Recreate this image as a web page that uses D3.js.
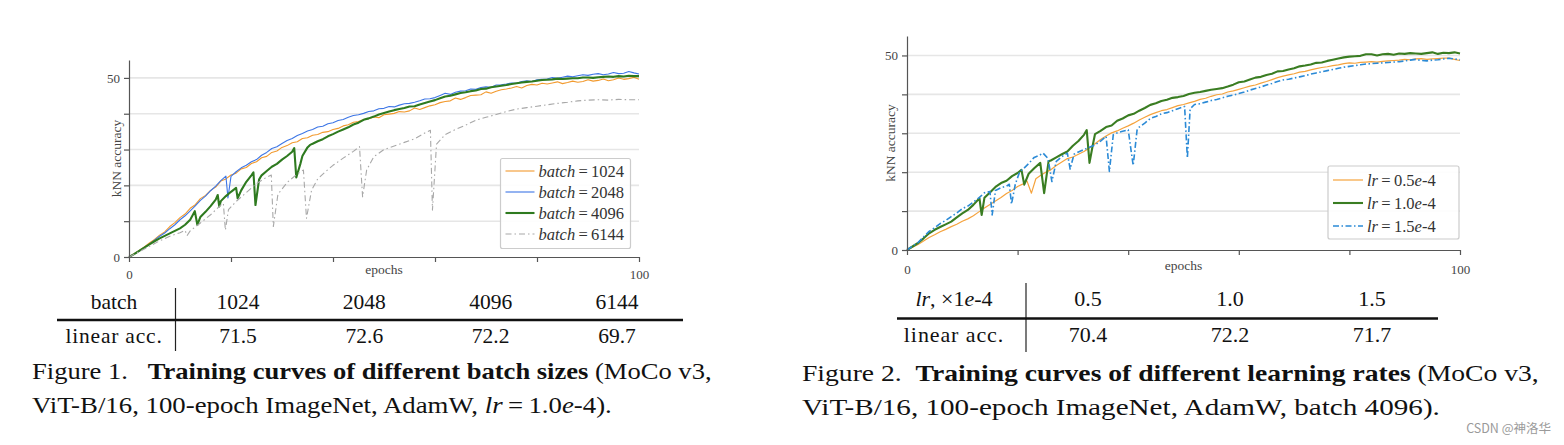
<!DOCTYPE html>
<html><head><meta charset="utf-8">
<script src="https://cdn.jsdelivr.net/npm/d3@7"></script>
<style>html,body{margin:0;padding:0;background:#fff;} svg{display:block;}</style>
</head><body>
<svg id="chart" width="1564" height="445"></svg>
<script>
// ---------------- DATA ----------------
const yTickValues = [0, 10, 20, 30, 40, 50];
const yTickLabels = ["0", "", "", "", "", "50"];
const yGridValues = [10, 20, 30, 40, 50];
const xTickValues = [0, 20, 40, 60, 80, 100];
const xTickLabels = ["0", "", "", "", "", "100"];

const batchLabels = ["1024", "2048", "4096", "6144"];
const batchLinearAcc = ["71.5", "72.6", "72.2", "69.7"];
const lrLabels = ["0.5", "1.0", "1.5"];
const lrLinearAcc = ["70.4", "72.2", "71.7"];

// Figure 1: kNN accuracy vs epoch, [epoch, acc]
const batch1024 = [[0,0],[1,0.9],[2,1.8],[3,2.8],[4,3.9],[5,4.9],[6,6.1],[7,7.0],[8,8.5],[9,9.6],[10,11.0],[11,12.0],[12,13.6],[13,14.6],[14,16.3],[15,17.2],[16,18.6],[17,19.5],[18,21.2],[19,21.8],[20,22.9],[21,23.4],[22,24.6],[23,25.0],[24,26.1],[25,26.6],[26,27.7],[27,28.1],[28,29.2],[29,29.6],[30,30.6],[31,31.1],[32,31.9],[33,32.2],[34,33.1],[35,33.3],[36,34.0],[37,34.2],[38,34.8],[39,35.0],[40,35.6],[41,35.9],[42,36.6],[43,36.9],[44,37.6],[45,37.8],[46,38.4],[47,38.6],[48,39.1],[49,38.9],[50,39.7],[51,39.9],[52,40.1],[53,40.6],[54,40.5],[55,40.8],[56,41.6],[57,41.2],[58,41.7],[59,42.2],[60,42.5],[61,43.1],[62,43.4],[63,43.6],[64,44.4],[65,44.0],[66,44.5],[67,45.1],[68,45.2],[69,45.3],[70,46.1],[71,45.7],[72,46.3],[73,46.7],[74,46.9],[75,47.2],[76,47.6],[77,47.2],[78,47.9],[79,48.2],[80,48.0],[81,48.5],[82,48.3],[83,48.6],[84,48.9],[85,48.4],[86,48.7],[87,49.1],[88,48.8],[89,49.0],[90,49.5],[91,49.1],[92,49.3],[93,49.7],[94,49.2],[95,49.5],[96,50.0],[97,49.6],[98,49.8],[99,50.2],[100,49.6]];
const batch2048 = [[0,0],[1,0.8],[2,1.7],[3,2.6],[4,3.6],[5,4.7],[6,5.8],[7,6.7],[8,7.9],[9,9.0],[10,10.4],[11,11.5],[12,12.9],[13,14.3],[14,15.8],[15,17.0],[16,18.5],[17,19.8],[18,21.3],[19,22.6],[19.4,16.5],[20,22.5],[21,23.8],[22,24.9],[23,25.6],[24,26.6],[25,27.2],[26,28.4],[27,29.2],[28,30.3],[29,30.8],[30,31.7],[31,32.5],[32,33.1],[33,33.9],[34,34.5],[35,35.2],[36,35.6],[37,36.3],[38,36.5],[39,37.2],[40,37.5],[41,38.1],[42,38.4],[43,39.0],[44,39.5],[45,39.7],[46,40.1],[47,40.6],[48,40.8],[49,41.4],[50,41.5],[51,42.0],[52,41.9],[53,42.4],[54,42.8],[55,42.9],[56,43.2],[57,43.6],[58,44.1],[59,44.2],[60,44.5],[61,45.1],[62,45.7],[63,45.4],[64,46.0],[65,46.3],[66,46.4],[67,46.9],[68,46.8],[69,47.3],[70,47.5],[71,47.4],[72,48.0],[73,48.1],[74,48.3],[75,48.6],[76,48.5],[77,49.0],[78,49.2],[79,49.0],[80,49.5],[81,49.6],[82,49.7],[83,50.1],[84,49.9],[85,50.2],[86,50.5],[87,50.3],[88,50.6],[89,50.9],[90,50.7],[91,51.0],[92,51.2],[93,50.9],[94,51.1],[95,51.5],[96,51.2],[97,51.3],[98,51.8],[99,51.4],[100,51.1]];
const batch4096 = [[0,0],[1,0.8],[2,1.7],[3,2.6],[4,3.5],[5,4.4],[6,5.2],[7,5.9],[8,6.6],[9,7.3],[10,8.0],[11,9.0],[12,10.4],[12.9,12.8],[13.4,9.0],[14,11.2],[15,12.6],[16,14.2],[17,16.0],[17.4,17.3],[17.7,14.1],[18,15.6],[19,17.0],[20,18.2],[21.0,19.3],[21.3,16.4],[22,18.6],[23,21.0],[24,22.8],[24.4,23.6],[24.8,14.5],[25.5,21.6],[26,22.8],[27,24.0],[28,25.2],[29,26.0],[30,27.2],[31,28.2],[32,29.4],[32.4,30.4],[32.8,22.2],[33.6,26.0],[34,28.2],[35,30.6],[35.5,31.3],[36,31.6],[37,32.3],[38,32.9],[39,33.7],[40,34.3],[41,35.0],[42,35.6],[43,36.2],[44,37.0],[45,37.5],[46,38.3],[47,38.7],[48,39.2],[49,39.8],[50,40.2],[51,40.6],[52,41.0],[53,41.3],[54,41.6],[55,42.0],[56,42.1],[57,42.6],[58,43.0],[59,43.4],[60,43.8],[61,44.3],[62,44.8],[63,45.0],[64,45.4],[65,45.8],[66,46.0],[67,46.3],[68,46.5],[69,46.9],[70,47.0],[71,47.4],[72,47.6],[73,47.8],[74,48.0],[75,48.3],[76,48.5],[77,48.7],[78,48.9],[79,49.0],[80,49.2],[81,49.4],[82,49.5],[83,49.6],[84,49.8],[85,49.7],[86,49.8],[87,49.9],[88,49.9],[89,50.1],[90,50.1],[91,50.0],[92,50.2],[93,50.3],[94,50.4],[95,50.3],[96,50.5],[97,50.4],[98,50.6],[99,50.5],[100,50.5]];
const batch6144 = [[0,0],[2,1.5],[4,3.0],[6,4.5],[8,5.8],[10,6.8],[11,7.4],[11.4,6.0],[12,7.3],[14,9.5],[16,11.8],[18,14.5],[18.5,15.0],[18.9,7.5],[19.5,13.2],[21,15.5],[23,18.0],[25,20.5],[27,22.3],[27.9,22.9],[28.3,8.5],[29.2,17.5],[31,20.8],[33,23.2],[34.2,24.3],[34.8,10.8],[35.8,18.7],[37,21.8],[38.5,23.8],[40,25.6],[42,27.6],[44,29.5],[45.2,30.8],[45.8,16.8],[46.6,24.3],[48,28.0],[50,30.0],[52,31.0],[54,32.0],[56,33.0],[58,34.6],[59.1,35.4],[59.5,13.1],[60.3,31.5],[62,34.2],[64,35.6],[66,36.8],[68,38.2],[70,39.0],[72,39.8],[74,40.6],[76,41.3],[78,41.7],[80,42.1],[82,42.5],[84,42.9],[86,43.2],[88,43.6],[90,43.8],[92,43.9],[94,43.8],[96,44.0],[98,43.9],[100,43.9]];

// Figure 2
const lr05 = [[0,0],[1,0.7],[2,1.4],[3,2.3],[4,3.2],[5,3.9],[6,4.7],[7,5.3],[8,6.0],[9,6.6],[10,7.4],[11,8.0],[12,8.8],[13,9.8],[14,10.8],[15,11.7],[16,12.6],[17,13.5],[18,14.5],[19,15.3],[20,16.3],[21,17.0],[21.7,17.7],[22.5,14.6],[23.3,18.3],[24,19.0],[25,19.9],[26,20.6],[27,21.7],[28,22.6],[29,23.5],[30,23.9],[31,24.6],[32,25.3],[33,26.2],[34,27.3],[35,28.4],[36,29.3],[37,30.1],[38,30.6],[39,31.3],[40,31.9],[41,32.6],[42,33.4],[43,34.1],[44,34.8],[45,35.3],[46,35.8],[47,36.1],[48,36.6],[49,37.1],[50,37.4],[51,37.8],[52,38.2],[53,38.7],[54,39.0],[55,39.5],[56,39.9],[57,40.1],[58,40.6],[59,40.9],[60,41.3],[61,41.7],[62,42.1],[63,42.4],[64,42.9],[65,43.3],[66,43.8],[67,44.3],[68,44.7],[69,45.0],[70,45.3],[71,45.7],[72,45.9],[73,46.3],[74,46.6],[75,46.9],[76,47.1],[77,47.4],[78,47.6],[79,47.9],[80,48.1],[81,48.0],[82,48.2],[83,48.3],[84,48.4],[85,48.3],[86,48.5],[87,48.6],[88,48.7],[89,48.8],[90,49.0],[91,48.9],[92,49.1],[93,49.2],[94,49.0],[95,49.1],[96,49.2],[97,49.3],[98,49.3],[99,49.0],[100,48.7]];
const lr10 = [[0,0],[1,0.9],[2,1.8],[3,3.0],[4,4.3],[5,5.2],[6,5.9],[7,6.6],[8,7.3],[9,8.4],[10,9.4],[11,10.3],[12,11.6],[13.1,13.3],[13.5,9.0],[14,13.4],[15,14.8],[16,16.2],[17,17.2],[18,17.8],[19,19.0],[20,19.8],[20.7,20.6],[21.2,16.8],[22,19.6],[23,21.0],[24.1,22.4],[24.8,14.6],[25.6,22.8],[26,23.0],[27,23.8],[28,24.6],[29,25.3],[30,26.8],[31,28.0],[32,29.6],[32.5,30.8],[33.0,22.4],[33.6,27.0],[34,29.8],[35,30.6],[36,31.6],[37,32.0],[38,33.2],[39,33.8],[40,34.6],[41,35.0],[42,35.8],[43,36.5],[44,37.3],[45,37.7],[46,38.3],[47,38.6],[48,39.1],[49,39.3],[50,39.6],[51,40.1],[52,40.4],[53,40.6],[54,40.9],[55,41.2],[56,41.4],[57,41.6],[58,42.0],[59,42.5],[60,43.1],[61,43.3],[62,43.8],[63,44.3],[64,44.5],[65,45.0],[66,45.3],[67,45.9],[68,46.0],[69,46.4],[70,46.7],[71,47.2],[72,47.4],[73,47.7],[74,48.1],[75,48.2],[76,48.6],[77,48.9],[78,49.2],[79,49.5],[80,49.7],[81,49.8],[82,49.9],[83,50.3],[84,50.3],[85,50.0],[86,50.3],[87,50.4],[88,50.2],[89,50.5],[90,50.4],[91,50.6],[92,50.5],[93,50.4],[94,50.6],[95,50.8],[96,50.4],[97,50.7],[98,50.6],[99,50.8],[100,50.5]];
const lr15 = [[0,0],[1,1.0],[2,1.9],[3,3.4],[4,4.8],[5,5.7],[6,6.8],[7,7.6],[8,8.6],[9,9.5],[10,10.6],[11,11.3],[12,12.3],[13,13.4],[14,14.7],[15.0,15.0],[15.4,9.0],[16,15.3],[17,16.0],[18,16.4],[18.5,16.9],[18.9,11.8],[19.6,17.0],[20.4,20.2],[21,20.8],[22,22.2],[23,23.8],[24,24.4],[24.6,24.9],[25.5,23.5],[26.2,17.6],[27,22.8],[28,24.0],[29,24.9],[29.5,20.8],[30.2,24.6],[31,25.2],[32,25.8],[33,26.4],[34,27.0],[35,28.0],[36,29.2],[36.6,20.2],[37.3,29.6],[38,30.1],[39,30.5],[40,30.9],[40.9,21.7],[41.6,30.8],[42,31.6],[43,32.6],[44,33.8],[45,34.3],[46,35.0],[47,35.3],[48,35.8],[49,36.3],[50.2,36.9],[50.7,23.6],[51.2,36.3],[52,37.4],[53,37.6],[54,38.0],[55,38.4],[56,38.7],[57,39.1],[58,39.5],[59,39.8],[60,40.2],[61,40.6],[62,41.1],[63,41.5],[64,41.9],[65,42.4],[66,42.8],[67,43.3],[68,43.7],[69,43.9],[70,44.2],[71,44.5],[72,44.8],[73,45.2],[74,45.5],[75,45.8],[76,46.1],[77,46.4],[78,46.7],[79,47.0],[80,47.2],[81,47.4],[82,47.6],[83,47.8],[84,47.9],[85,48.0],[86,48.1],[87,48.2],[88,48.3],[89,48.4],[90,48.6],[91,48.8],[92,49.0],[93,48.7],[94,48.6],[95,48.8],[96,48.9],[97,49.1],[98,49.3],[99,49.1],[100,48.9]];

// ---------------- DRAWING ----------------
const SERIF = "'Liberation Serif','Times New Roman',serif";
const EQ = "\u2009=\u2009";
const svg = d3.select("#chart");
svg.append("rect").attr("width", 1564).attr("height", 445).attr("fill", "#fff");

function richText(sel, parts) {
  parts.forEach(p => {
    const t = sel.append("tspan").text(p.t);
    if (p.i) t.attr("font-style", "italic");
    if (p.b) t.attr("font-weight", "bold");
  });
  return sel;
}
// stretch a text horizontally so that it spans from x to right
function fitWidth(t, x, right) {
  const w = t.node().getBBox().width;
  const s = (right - x) / w;
  t.attr("transform", `translate(${x},0) scale(${s},1) translate(${-x},0)`);
}

function panel(cfg) {
  const x = d3.scaleLinear().domain([0, 100]).range([cfg.left, cfg.right]);
  const y = d3.scaleLinear().domain([0, 55]).range([cfg.bottom, cfg.top]);
  const g = svg.append("g");

  g.selectAll("line.grid").data(yGridValues).join("line").attr("class", "grid")
    .attr("x1", x(0)).attr("x2", x(100))
    .attr("y1", d => y(d)).attr("y2", d => y(d))
    .attr("stroke", "#e6e6e6").attr("stroke-width", 1.6);

  const line = d3.line().x(d => x(d[0])).y(d => y(d[1]));
  cfg.series.forEach(s => {
    g.append("path").datum(s.data).attr("d", line)
      .attr("fill", "none").attr("stroke", s.color).attr("stroke-width", s.width)
      .attr("stroke-linejoin", "round")
      .attr("stroke-dasharray", s.dash || null);
  });

  const xa = g.append("g").attr("transform", `translate(0,${cfg.bottom})`)
    .call(d3.axisBottom(x).tickValues(xTickValues).tickSize(5).tickSizeOuter(0)
      .tickPadding(cfg.xPad).tickFormat((d, i) => xTickLabels[i]));
  const ya = g.append("g").attr("transform", `translate(${cfg.left},0)`)
    .call(d3.axisLeft(y).tickValues(yTickValues).tickSize(5).tickSizeOuter(0)
      .tickPadding(4).tickFormat((d, i) => yTickLabels[i]));
  [xa, ya].forEach(a => {
    a.select(".domain").attr("stroke", "#555").attr("stroke-width", 1.2);
    a.selectAll(".tick line").attr("stroke", "#555").attr("stroke-width", 1.2);
    a.selectAll("text").attr("font-family", SERIF).attr("font-size", 13).attr("fill", "#444");
  });

  g.append("text").attr("x", x(50)).attr("y", cfg.xLabelY).attr("text-anchor", "middle")
    .attr("font-family", SERIF).attr("font-size", 13.5).attr("fill", "#444").text("epochs");
  g.append("text").attr("transform", `translate(${cfg.yLabelX},${(cfg.top + cfg.bottom) / 2}) rotate(-90)`)
    .attr("text-anchor", "middle").attr("dominant-baseline", "middle")
    .attr("font-family", SERIF).attr("font-size", 13.5).attr("fill", "#444").text("kNN accuracy");

  // legend
  const L = cfg.legend;
  g.append("rect").attr("x", L.x).attr("y", L.y).attr("width", L.w).attr("height", L.h)
    .attr("rx", 2).attr("fill", "#fff").attr("fill-opacity", 0.9)
    .attr("stroke", "#ccc").attr("stroke-width", 1.2);
  cfg.series.forEach((s, i) => {
    const cy = L.y + L.first + i * L.step;
    g.append("line").attr("x1", L.x + 5).attr("x2", L.x + 5 + L.lineLen)
      .attr("y1", cy).attr("y2", cy)
      .attr("stroke", s.color).attr("stroke-width", s.width)
      .attr("stroke-dasharray", s.dash || null);
    const t = g.append("text").attr("x", L.x + 9 + L.lineLen).attr("y", cy + L.fs * 0.34)
      .attr("font-family", SERIF).attr("font-size", L.fs).attr("fill", "#333");
    richText(t, s.label);
  });
}

panel({
  left: 129, right: 639, top: 60, bottom: 257, xPad: 8, xLabelY: 274, yLabelX: 118,
  legend: {x: 500.5, y: 158.5, w: 130, h: 90, first: 12.5, step: 21, lineLen: 29, fs: 16.5},
  series: [
    {data: batch1024, color: "#f29a2e", width: 1.1, label: [{t: "batch", i: true}, {t: EQ + batchLabels[0]}]},
    {data: batch2048, color: "#3d76e6", width: 1.1, label: [{t: "batch", i: true}, {t: EQ + batchLabels[1]}]},
    {data: batch4096, color: "#2e7a1f", width: 2.1, label: [{t: "batch", i: true}, {t: EQ + batchLabels[2]}]},
    {data: batch6144, color: "#a8a8a8", width: 1.1, dash: "6,3,1.5,3", label: [{t: "batch", i: true}, {t: EQ + batchLabels[3]}]}
  ]
});

panel({
  left: 907, right: 1460, top: 36, bottom: 250, xPad: 10, xLabelY: 270, yLabelX: 892,
  legend: {x: 1328, y: 166, w: 131, h: 73, first: 14, step: 23, lineLen: 30, fs: 16.5},
  series: [
    {data: lr05, color: "#f5a33d", width: 1.2, label: [{t: "lr", i: true}, {t: EQ + lrLabels[0]}, {t: "e", i: true}, {t: "-4"}]},
    {data: lr10, color: "#3a7d22", width: 2.1, label: [{t: "lr", i: true}, {t: EQ + lrLabels[1]}, {t: "e", i: true}, {t: "-4"}]},
    {data: lr15, color: "#2b8ad6", width: 1.6, dash: "6,2.5,1.5,2.5", label: [{t: "lr", i: true}, {t: EQ + lrLabels[2]}, {t: "e", i: true}, {t: "-4"}]}
  ]
});

// ---------------- TABLES ----------------
function table(cfg) {
  const g = svg.append("g").attr("font-family", SERIF).attr("fill", "#111");
  const col = d3.scalePoint().domain(d3.range(cfg.top.length)).range(cfg.colRange);
  const t1 = g.append("text").attr("x", cfg.headX).attr("y", cfg.row1).attr("text-anchor", "middle").attr("font-size", cfg.fs);
  richText(t1, cfg.head);
  g.append("text").attr("x", cfg.headX).attr("y", cfg.row2).attr("text-anchor", "middle").attr("font-size", cfg.fs)
    .attr("letter-spacing", cfg.ls).text("linear acc.");
  g.selectAll("text.c1").data(cfg.top).join("text").attr("class", "c1")
    .attr("x", (d, i) => col(i)).attr("y", cfg.row1).attr("text-anchor", "middle").attr("font-size", cfg.fs).text(d => d);
  g.selectAll("text.c2").data(cfg.bottom).join("text").attr("class", "c2")
    .attr("x", (d, i) => col(i)).attr("y", cfg.row2).attr("text-anchor", "middle").attr("font-size", cfg.fs).text(d => d);
  g.append("line").attr("x1", cfg.vx).attr("x2", cfg.vx).attr("y1", cfg.vy[0]).attr("y2", cfg.vy[1])
    .attr("stroke", "#222").attr("stroke-width", 1.2);
  g.append("line").attr("x1", cfg.rule[0]).attr("x2", cfg.rule[1]).attr("y1", cfg.ruleY).attr("y2", cfg.ruleY)
    .attr("stroke", "#111").attr("stroke-width", 2.6);
}

table({head: [{t: "batch"}], headX: 114, top: batchLabels, bottom: batchLinearAcc, ls: 0.8,
  colRange: [238, 617], row1: 309, row2: 343, fs: 21.5, vx: 175.5, vy: [288, 351], rule: [57, 683], ruleY: 320});
table({head: [{t: "lr", i: true}, {t: ", \u00d71"}, {t: "e", i: true}, {t: "-4"}], headX: 954, top: lrLabels, bottom: lrLinearAcc, ls: 0.9,
  colRange: [1088, 1372], row1: 306, row2: 342, fs: 22, vx: 1026, vy: [283, 352], rule: [897, 1438], ruleY: 318.5});

// ---------------- CAPTIONS ----------------
function caption(x, y, parts, fs, right) {
  const t = svg.append("text").attr("x", x).attr("y", y).attr("font-family", SERIF)
    .attr("font-size", fs).attr("fill", "#111").style("white-space", "pre");
  richText(t, parts);
  fitWidth(t, x, right);
}
caption(32, 379, [{t: "Figure 1.   "}, {t: "Training curves of different batch sizes", b: true}, {t: " (MoCo v3,"}], 23, 712);
caption(32, 413, [{t: "ViT-B/16, 100-epoch ImageNet, AdamW, "}, {t: "lr", i: true}, {t: EQ + "1.0"}, {t: "e", i: true}, {t: "-4)."}], 23, 612);
caption(802, 381, [{t: "Figure 2.  "}, {t: "Training curves of different learning rates", b: true}, {t: " (MoCo v3,"}], 23, 1539);
caption(802, 415, [{t: "ViT-B/16, 100-epoch ImageNet, AdamW, batch 4096)."}], 23, 1440);

svg.append("text").attr("x", 1551).attr("y", 433).attr("text-anchor", "end")
  .attr("font-family", "'Noto Sans CJK SC','Noto Sans',sans-serif").attr("font-size", 12.5)
  .attr("fill", "#9a9a9a").text("CSDN @\u795e\u6d1b\u534e");
</script>
</body></html>
